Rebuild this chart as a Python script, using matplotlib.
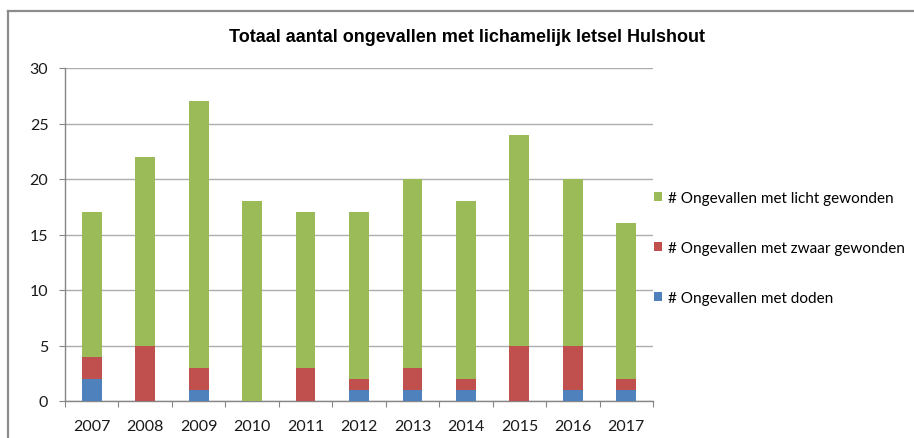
import matplotlib
matplotlib.use("Agg")
import matplotlib.pyplot as plt
from matplotlib.patches import Patch
from matplotlib.lines import Line2D
import numpy as np

years = ["2007", "2008", "2009", "2010", "2011", "2012", "2013", "2014", "2015", "2016", "2017"]
doden = [2, 0, 1, 0, 0, 1, 1, 1, 0, 1, 1]
zwaar = [2, 5, 2, 0, 3, 1, 2, 1, 5, 4, 1]
licht = [13, 17, 24, 18, 14, 15, 17, 16, 19, 15, 14]

labels = ["# Ongevallen met doden",
          "# Ongevallen met zwaar gewonden",
          "# Ongevallen met licht gewonden"]
colors = ["#4F81BD", "#C0504D", "#9BBB59"]
title = "Totaal aantal ongevallen met lichamelijk letsel Hulshout"

W, H = 914, 439
fig = plt.figure(figsize=(W / 100, H / 100), dpi=100)
ax = fig.add_axes([65 / W, 1 - 402 / H, (653 - 65) / W, (402 - 69) / H])

x = np.arange(len(years))
d = np.array(doden)
z = np.array(zwaar)
l = np.array(licht)
bw = 0.37
ax.bar(x, d, bw, color=colors[0], zorder=3)
ax.bar(x, z, bw, bottom=d, color=colors[1], zorder=3)
ax.bar(x, l, bw, bottom=d + z, color=colors[2], zorder=3)

ax.set_xlim(-0.5, len(years) - 0.5)
ax.set_ylim(0, 30)
ax.set_yticks(range(0, 31, 5))
ax.grid(axis="y", color="#ADADAD", linewidth=1, zorder=0)

ax.set_xticks(np.arange(-0.5, len(years), 1))
ax.set_xticklabels([])
ax.set_xticks(x, minor=True)
ax.set_xticklabels(years, minor=True)
ax.tick_params(axis="x", which="major", length=4, color="#868686", direction="out")
ax.tick_params(axis="x", which="minor", length=0, pad=13)
ax.tick_params(axis="y", length=4, color="#868686", pad=8)

for sp in ["top", "right"]:
    ax.spines[sp].set_visible(False)
for sp in ["left", "bottom"]:
    ax.spines[sp].set_color("#868686")
    ax.spines[sp].set_linewidth(1)

for t in ax.get_xticklabels(minor=True) + ax.get_yticklabels():
    t.set_fontfamily("Lato")
    t.set_fontsize(11.5)
    t.set_color("#1A1A1A")

fig.text(467 / W, 1 - 38 / H, title, ha="center", va="center",
         fontsize=13, fontweight="bold", family="Liberation Sans")

handles = [Patch(facecolor=colors[i], edgecolor="none") for i in (2, 1, 0)]
fig.legend(handles, [labels[i] for i in (2, 1, 0)],
           loc="upper left", bbox_to_anchor=(648 / W, 1 - 186 / H),
           frameon=False, prop={"family": "Lato", "size": 11},
           handlelength=0.5, handleheight=0.5, handletextpad=0.4,
           labelspacing=2.35, borderaxespad=0)

# outer chart frame (left and top edges)
fig.add_artist(Line2D([8 / W, 8 / W], [0, 1 - 12 / H], transform=fig.transFigure,
                      color="#8C8C8C", linewidth=1.6))
fig.add_artist(Line2D([8 / W, 1], [1 - 12 / H, 1 - 12 / H], transform=fig.transFigure,
                      color="#8C8C8C", linewidth=1.6))

fig.savefig("out.png", dpi=100)
